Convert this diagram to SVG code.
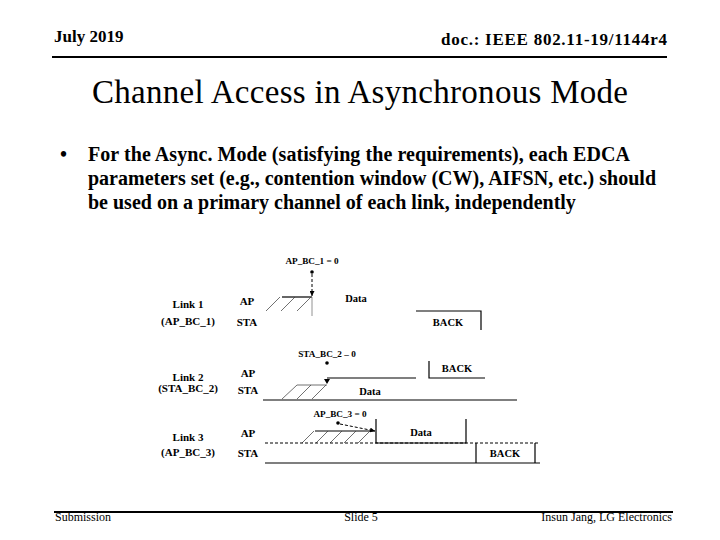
<svg xmlns="http://www.w3.org/2000/svg" width="720" height="540" viewBox="0 0 720 540">
<defs>
<style>
text{font-family:"Liberation Serif","DejaVu Serif","Times New Roman",serif;fill:#000}
.hdr{font-size:17px;font-weight:bold}
.ttl{font-size:33px}
.bul{font-size:20px;font-weight:bold}
.ftr{font-size:12px}
.lbl{font-size:11px;font-weight:bold}
.dat{font-size:10.5px;font-weight:bold}
.sm{font-size:9.2px;font-weight:bold}
.ln{stroke:#000;stroke-width:1.2;fill:none}
.thin{stroke:#777;stroke-width:0.8;fill:none}
.hat{stroke:#333;stroke-width:0.7;fill:none}
.dsh{stroke:#000;stroke-width:1;stroke-dasharray:3,2;fill:none}
</style>
<marker id="ah" viewBox="0 0 10 10" refX="10" refY="5" markerWidth="5" markerHeight="5" orient="auto"><path d="M0,0 L10,5 L0,10 z" fill="#000"/></marker>
</defs>
<rect width="720" height="540" fill="#fff"/>
<g id="header">
<text class="hdr" x="54" y="42">July 2019</text>
<text class="hdr" x="667" y="45" text-anchor="end" textLength="226">doc.: IEEE 802.11-19/1144r4</text>
<line x1="52" y1="57" x2="667" y2="57" stroke="#000" stroke-width="2"/>
</g>
<g id="title"><text class="ttl" x="360" y="103" text-anchor="middle" textLength="536">Channel Access in Asynchronous Mode</text></g>
<g id="bullet">
<text class="bul" x="60" y="161">•</text>
<text class="bul" x="88" y="161" textLength="542">For the Async. Mode (satisfying the requirements), each EDCA</text>
<text class="bul" x="88" y="185" textLength="568">parameters set (e.g., contention window (CW), AIFSN, etc.) should</text>
<text class="bul" x="88" y="209">be used on a primary channel of each link, independently</text>
</g>
<g id="link1">
<text class="lbl" x="188" y="308" text-anchor="middle">Link 1</text>
<text class="lbl" x="188" y="325" text-anchor="middle">(AP_BC_1)</text>
<text class="lbl" x="247" y="305" text-anchor="middle">AP</text>
<text class="lbl" x="247" y="326" text-anchor="middle">STA</text>
<text class="sm" x="312" y="264" text-anchor="middle">AP_BC_1 = 0</text>
<circle cx="312" cy="272" r="1.8" fill="#000"/>
<line class="ln" x1="282" y1="297" x2="312" y2="297"/>
<line class="thin" x1="312" y1="297" x2="312" y2="316"/>
<path class="hat" d="M266,311 L280,297 M281,311 L295,297 M297,311 L311,297"/>
<text class="dat" x="356" y="302" text-anchor="middle">Data</text>
<path class="ln" d="M416,311 H481 V330"/>
<text class="dat" x="448" y="326" text-anchor="middle">BACK</text>
</g>
<g id="link2">
<text class="lbl" x="188" y="381" text-anchor="middle">Link 2</text>
<text class="lbl" x="188" y="392" text-anchor="middle">(STA_BC_2)</text>
<text class="lbl" x="248" y="377" text-anchor="middle">AP</text>
<text class="lbl" x="248" y="394" text-anchor="middle">STA</text>
<text class="sm" x="327" y="357" text-anchor="middle">STA_BC_2 – 0</text>
<circle cx="327" cy="363" r="1.8" fill="#000"/>
<line class="ln" x1="327" y1="378" x2="416" y2="378"/>
<path d="M324,379 L330,379 L327,384 z" fill="#000"/>
<path class="hat" d="M297,385 H327 M282,399 L297,385 M297,399 L311,385 M312,399 L326,385"/>
<line class="ln" x1="263" y1="400" x2="517" y2="400"/>
<text class="dat" x="370" y="395" text-anchor="middle">Data</text>
<path class="ln" d="M429,361 V378 H485"/>
<text class="dat" x="457" y="372" text-anchor="middle">BACK</text>
</g>
<g id="link3">
<text class="lbl" x="188" y="441" text-anchor="middle">Link 3</text>
<text class="lbl" x="188" y="456" text-anchor="middle">(AP_BC_3)</text>
<text class="lbl" x="248" y="437" text-anchor="middle">AP</text>
<text class="lbl" x="248" y="457" text-anchor="middle">STA</text>
<text class="sm" x="340" y="417" text-anchor="middle">AP_BC_3 = 0</text>
<circle cx="338" cy="423" r="1.8" fill="#000"/>
<line class="ln" x1="315" y1="431" x2="375" y2="431"/>
<path class="hat" d="M302,443 L314,431 M316,443 L328,431 M330,443 L342,431 M344,443 L356,431 M358,443 L370,431"/>
<line class="dsh" x1="265" y1="443" x2="540" y2="443"/>
<path class="ln" d="M376,419 V443 H466 V419"/>
<text class="dat" x="421" y="436" text-anchor="middle">Data</text>
<line class="ln" x1="265" y1="463" x2="540" y2="463"/>
<path class="ln" d="M476,443 V463 M535,443 V463"/>
<text class="dat" x="505" y="457" text-anchor="middle">BACK</text>
</g>
<g id="connectors">
<line class="dsh" x1="312" y1="274" x2="312" y2="296" marker-end="url(#ah)"/>
<line class="dsh" x1="340" y1="424" x2="375" y2="431" marker-end="url(#ah)"/>
</g>
<g id="footer">
<line x1="54" y1="512" x2="673" y2="512" stroke="#000" stroke-width="2"/>
<text class="ftr" x="55" y="521">Submission</text>
<text class="ftr" x="361" y="521" text-anchor="middle">Slide 5</text>
<text class="ftr" x="672" y="521" text-anchor="end">Insun Jang, LG Electronics</text>
</g>
</svg>
